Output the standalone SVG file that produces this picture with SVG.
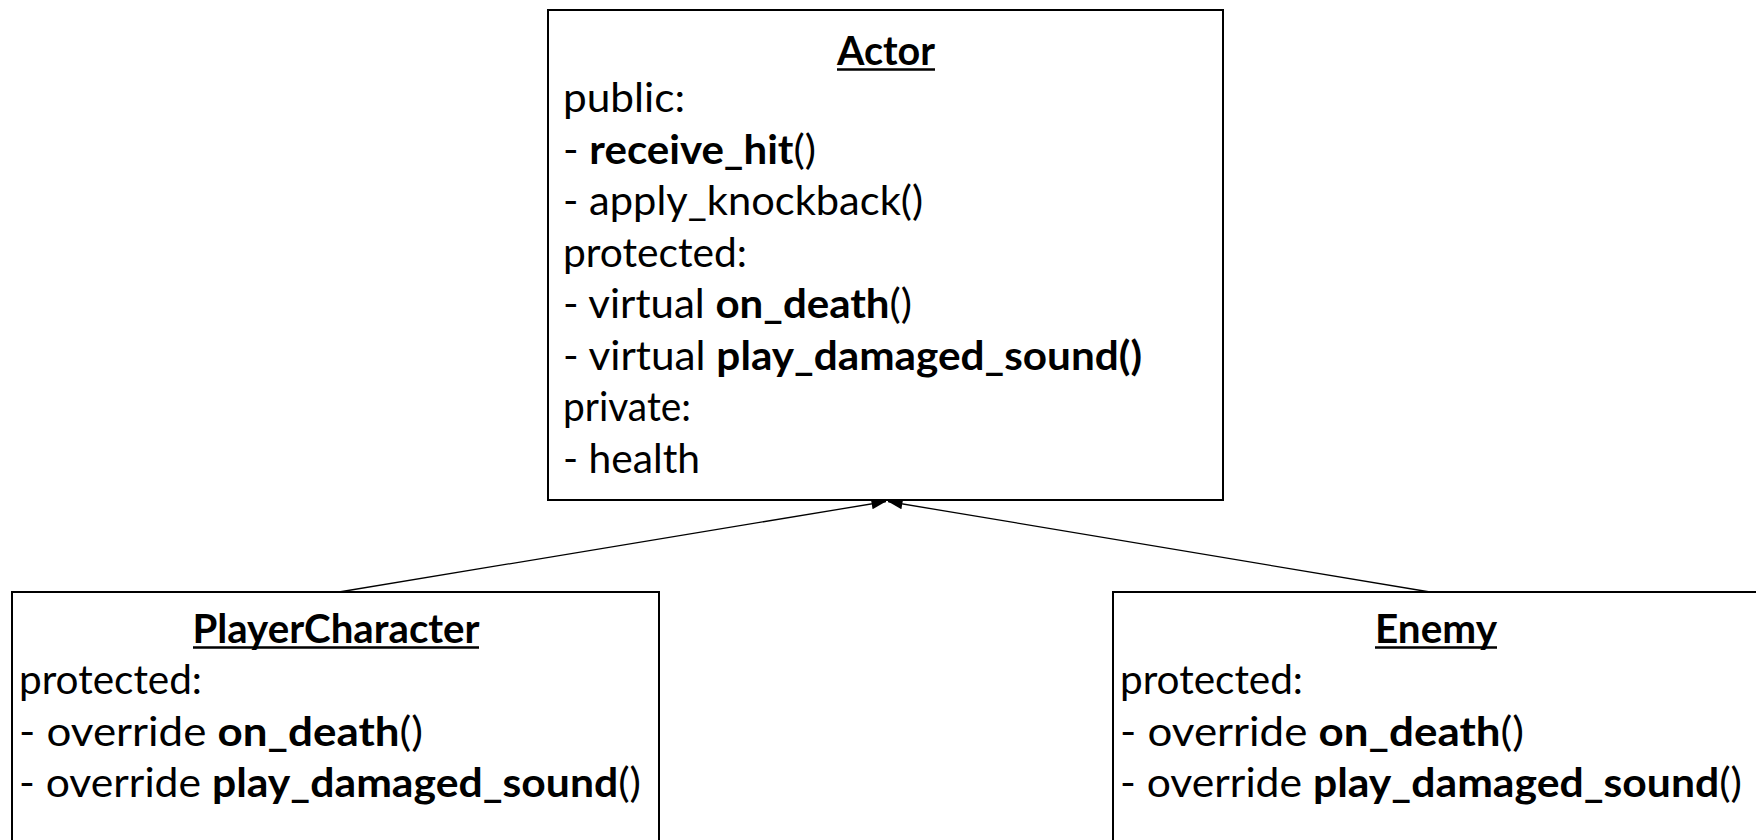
<svg xmlns="http://www.w3.org/2000/svg" width="1756" height="840" viewBox="0 0 1756 840">
  <style>
    .box { fill: #ffffff; stroke: #000000; stroke-width: 2; }
    .txt { font-family: Lato, "Open Sans", "Liberation Sans", sans-serif; font-size: 40px; fill: #000000; }
    .title { font-weight: bold; text-anchor: middle; }
    .b { font-weight: bold; }
    .ul { stroke: #000000; stroke-width: 2.5; }
    .edge { stroke: #000000; stroke-width: 1.3; fill: none; marker-end: url(#tri); }
  </style>
  <defs>
    <marker id="tri" markerUnits="userSpaceOnUse" markerWidth="15" markerHeight="12" viewBox="0 0 15 12" refX="14.5" refY="6" orient="auto">
      <path d="M0,0.5 L14.5,6 L0,11.5 Z" fill="#000000"/>
    </marker>
  </defs>
  <rect width="1756" height="840" fill="#ffffff"/>

  <!-- inheritance connectors -->
  <g id="connectors">
    <line class="edge" x1="339" y1="592" x2="886" y2="501.5"/>
    <line class="edge" x1="1430" y1="592" x2="888" y2="501.5"/>
  </g>

  <!-- base class -->
  <g id="actor">
    <rect class="box" x="548" y="10" width="675" height="490"/>
    <text class="txt title" x="886" y="65" textLength="98" lengthAdjust="spacingAndGlyphs">Actor</text>
    <line class="ul" x1="837" y1="69.5" x2="935" y2="69.5"/>
    <text class="txt" x="563" y="112" textLength="122" lengthAdjust="spacingAndGlyphs">public:</text>
    <text class="txt" x="563" y="163.5" textLength="253" lengthAdjust="spacingAndGlyphs">- <tspan class="b">receive_hit</tspan>()</text>
    <text class="txt" x="563" y="215" textLength="360" lengthAdjust="spacingAndGlyphs">- apply_knockback()</text>
    <text class="txt" x="563" y="266.5" textLength="184" lengthAdjust="spacingAndGlyphs">protected:</text>
    <text class="txt" x="563" y="318" textLength="349" lengthAdjust="spacingAndGlyphs">- virtual <tspan class="b">on_death</tspan>()</text>
    <text class="txt" x="563" y="369.5" textLength="579" lengthAdjust="spacingAndGlyphs">- virtual <tspan class="b">play_damaged_sound()</tspan></text>
    <text class="txt" x="563" y="421" textLength="128" lengthAdjust="spacingAndGlyphs">private:</text>
    <text class="txt" x="563" y="472.5" textLength="137" lengthAdjust="spacingAndGlyphs">- health</text>
  </g>

  <!-- derived class: player -->
  <g id="player-character">
    <rect class="box" x="12" y="592" width="647" height="260"/>
    <text class="txt title" x="336" y="643" textLength="287" lengthAdjust="spacingAndGlyphs">PlayerCharacter</text>
    <line class="ul" x1="193" y1="647.5" x2="479" y2="647.5"/>
    <text class="txt" x="19" y="694" textLength="183" lengthAdjust="spacingAndGlyphs">protected:</text>
    <text class="txt" x="19" y="745.5" textLength="404" lengthAdjust="spacingAndGlyphs">- override <tspan class="b">on_death</tspan>()</text>
    <text class="txt" x="19" y="797" textLength="622" lengthAdjust="spacingAndGlyphs">- override <tspan class="b">play_damaged_sound</tspan>()</text>
  </g>

  <!-- derived class: enemy -->
  <g id="enemy">
    <rect class="box" x="1113" y="592" width="647" height="260"/>
    <text class="txt title" x="1436" y="643" textLength="122" lengthAdjust="spacingAndGlyphs">Enemy</text>
    <line class="ul" x1="1375" y1="647.5" x2="1497" y2="647.5"/>
    <text class="txt" x="1120" y="694" textLength="183" lengthAdjust="spacingAndGlyphs">protected:</text>
    <text class="txt" x="1120" y="745.5" textLength="404" lengthAdjust="spacingAndGlyphs">- override <tspan class="b">on_death</tspan>()</text>
    <text class="txt" x="1120" y="797" textLength="622" lengthAdjust="spacingAndGlyphs">- override <tspan class="b">play_damaged_sound</tspan>()</text>
  </g>
</svg>
